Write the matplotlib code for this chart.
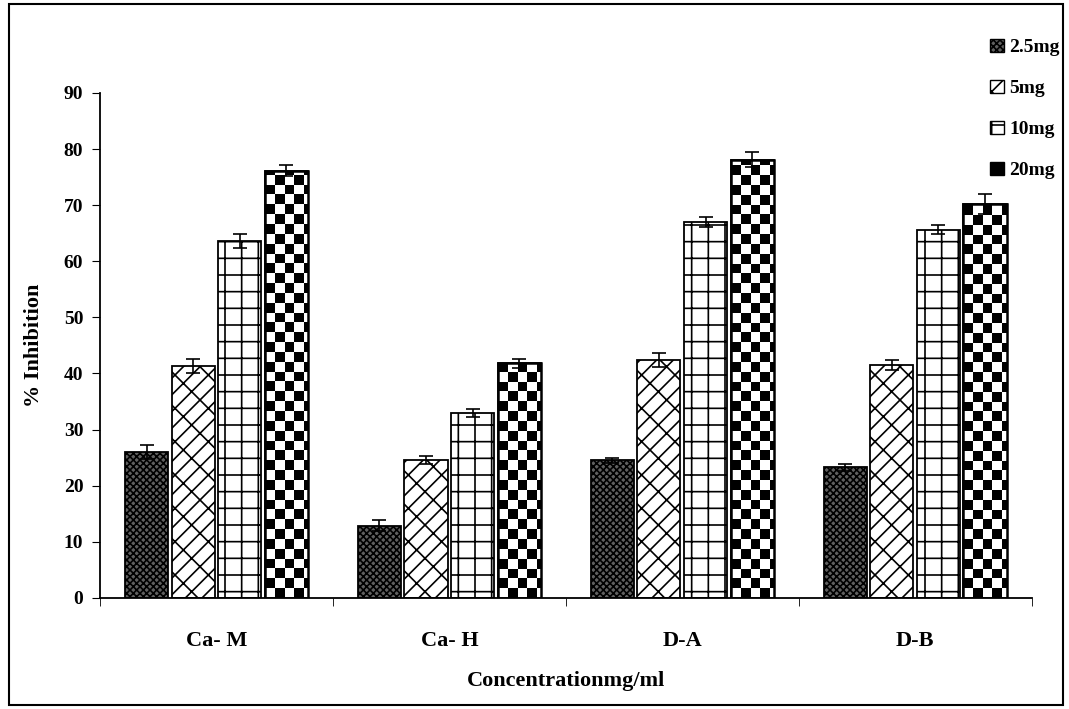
import numpy as np
import matplotlib
matplotlib.use("Agg")
import matplotlib.pyplot as plt
from matplotlib.patches import Rectangle, Patch

categories = ["Ca- M", "Ca- H", "D-A", "D-B"]
series = ["2.5mg", "5mg", "10mg", "20mg"]
vals_25 = [26.0, 12.9, 24.5, 23.3]
vals_5 = [41.3, 24.6, 42.4, 41.5]
vals_10 = [63.6, 32.9, 67.0, 65.6]
vals_20 = [76.1, 41.8, 78.1, 70.2]
err_25 = [1.3, 1.0, 0.5, 0.6]
err_5 = [1.2, 0.7, 1.2, 0.9]
err_10 = [1.3, 0.7, 0.9, 0.8]
err_20 = [1.0, 0.8, 1.3, 1.7]
yticks = [0, 10, 20, 30, 40, 50, 60, 70, 80, 90]

plt.rcParams['font.family'] = ['Liberation Serif', 'DejaVu Serif']
plt.rcParams['font.weight'] = 'bold'
plt.rcParams['hatch.linewidth'] = 1.2

fig = plt.figure(figsize=(10.69, 7.09), dpi=100)
ax = fig.add_axes([0.0935, 0.1566, 0.8715, 0.7124])

allvals = [vals_25, vals_5, vals_10, vals_20]
allerr = [err_25, err_5, err_10, err_20]
hatches = ['xxxxx', '//\\', '+', None]
fills = ['#606060', 'white', 'white', 'white']
x = np.arange(len(categories))
w = 0.185
offs = [-0.3, -0.1, 0.1, 0.3]
for i in range(4):
    bars = ax.bar(x + offs[i], allvals[i], width=w, color=fills[i], edgecolor='black',
                  linewidth=1.3, hatch=hatches[i], zorder=2)
    if i == 3:
        for b in bars:
            x0, y0 = b.get_x(), b.get_y()
            bw, bh = b.get_width(), b.get_height()
            nx = 5
            cw = bw / 4.5
            ch = 1.75
            ny = int(np.ceil(bh / ch)) + 1
            img = np.indices((ny, nx)).sum(axis=0) % 2
            im = ax.imshow(img, cmap='gray_r', extent=(x0, x0 + nx * cw, y0, y0 + ny * ch),
                           origin='lower', interpolation='nearest', aspect='auto', zorder=2.5)
            im.set_clip_path(b)
            edge = Rectangle((x0, y0), bw, bh, fill=False, edgecolor='black', linewidth=1.8, zorder=3)
            ax.add_patch(edge)
    ax.errorbar(x + offs[i], allvals[i], yerr=allerr[i], fmt='none', ecolor='black',
                elinewidth=1.2, capsize=5, capthick=1.2, zorder=4)

ax.set_xlim(-0.5, 3.5)
ax.set_ylim(0, 90)
ax.set_yticks(yticks)
ax.set_yticklabels([str(t) for t in yticks], fontsize=14, fontweight='bold')
ax.set_xticks(x)
ax.set_xticklabels(categories, fontsize=16, fontweight='bold')
ax.tick_params(axis='x', length=0, pad=24)
ax.set_xticks([-0.5, 0.5, 1.5, 2.5, 3.5], minor=True)
ax.tick_params(axis='x', which='minor', length=6, direction='out')
ax.tick_params(axis='y', length=6, direction='out', pad=6)
for s in ['top', 'right']:
    ax.spines[s].set_visible(False)
ax.spines['left'].set_linewidth(1.3)
ax.spines['bottom'].set_linewidth(1.3)
ax.set_xlabel("Concentrationmg/ml", fontsize=16, fontweight='bold', labelpad=14)
ax.set_ylabel("% Inhibition", fontsize=16, fontweight='bold', labelpad=14)

handles = [Patch(facecolor=fills[i] if i != 3 else 'black', edgecolor='black',
                 hatch=hatches[i] if i < 3 else None) for i in range(4)]
leg = fig.legend(handles, series, loc='upper right', bbox_to_anchor=(1.008, 0.97),
                 frameon=False, prop={'family': 'Liberation Serif', 'weight': 'bold', 'size': 14},
                 handlelength=0.7, handleheight=0.7, handletextpad=0.3, labelspacing=1.2)

fig.patches.append(Rectangle((0.008, 0.006), 0.986, 0.988, transform=fig.transFigure,
                             fill=False, edgecolor='black', linewidth=1.5))
fig.savefig("out.png", dpi=100)
